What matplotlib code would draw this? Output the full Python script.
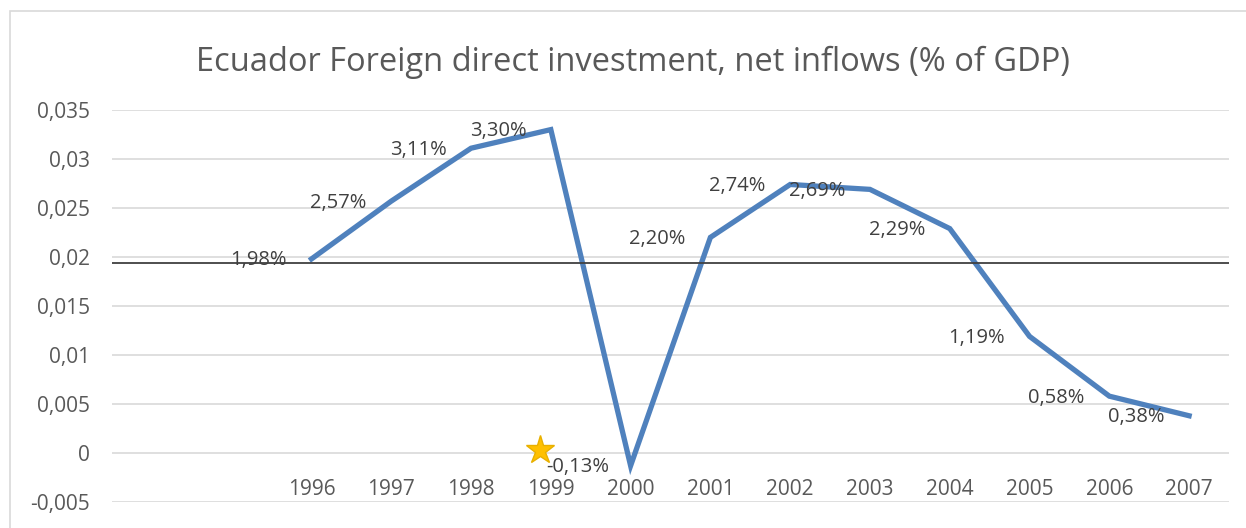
import numpy as np
import matplotlib.pyplot as plt
from matplotlib.patches import Rectangle

# categories (first two slots are empty in the original sheet)
categories = ['', '', '1996', '1997', '1998', '1999', '2000', '2001',
              '2002', '2003', '2004', '2005', '2006', '2007']
fdi = [np.nan, np.nan, 0.0198, 0.0257, 0.0311, 0.0330, -0.0013, 0.0220,
       0.0274, 0.0269, 0.0229, 0.0119, 0.0058, 0.0038]
ref_level = 0.0194          # black horizontal line
star_x, star_y = 4.86, 0.0003

y_ticks = [-0.005, 0, 0.005, 0.01, 0.015, 0.02, 0.025, 0.03, 0.035]
y_labels = ['-0,005', '0', '0,005', '0,01', '0,015', '0,02', '0,025', '0,03', '0,035']

plt.rcParams['font.family'] = ['Open Sans', 'DejaVu Sans']

fig = plt.figure(figsize=(12.46, 5.28), dpi=100)
fig.patches.append(Rectangle((10 / 1246, -0.2), 1.2, 1.2 - 11 / 528, transform=fig.transFigure,
                             fill=False, edgecolor='#d9d9d9', linewidth=1.2))
ax = fig.add_axes([112 / 1246, 1 - 502 / 528, (1229 - 112) / 1246, (502 - 110) / 528])

x = np.arange(len(categories))
ax.plot(x, fdi, color='#4f81bd', linewidth=3.8, solid_joinstyle='miter', zorder=3)
ax.axhline(ref_level, color='#404040', linewidth=1.3, zorder=4)
ax.plot(star_x, star_y, marker='*', markersize=21, color='#ffc000',
        markeredgecolor='#e8b000', zorder=5)

for xi, v in zip(x, fdi):
    if np.isnan(v):
        continue
    lab = f"{v * 100:.2f}%".replace('.', ',')
    ax.annotate(lab, (xi, v), xytext=(-38, -1), textcoords='offset points',
                ha='center', va='center', fontsize=14.5, color='#404040', zorder=6)

ax.set_xlim(-0.5, len(categories) - 0.5)
ax.set_ylim(-0.005, 0.035)
ax.set_yticks(y_ticks)
ax.set_yticklabels(y_labels)
ax.set_xticks(x)
ax.set_xticklabels(categories)
ax.grid(axis='y', color='#d9d9d9', linewidth=1.2)
ax.set_axisbelow(True)
for s in ax.spines.values():
    s.set_visible(False)
ax.spines['bottom'].set_position(('data', 0))
ax.tick_params(axis='y', length=0, pad=16, labelsize=15, labelcolor='#595959')
ax.tick_params(axis='x', length=0, pad=19, labelsize=15, labelcolor='#595959')

fig.text(0.5 * (197 + 1069) / 1246, 1 - 62 / 528,
         'Ecuador Foreign direct investment, net inflows (% of GDP)',
         ha='center', va='center', fontsize=23.5, color='#595959')

fig.savefig('out.png', dpi=100)
